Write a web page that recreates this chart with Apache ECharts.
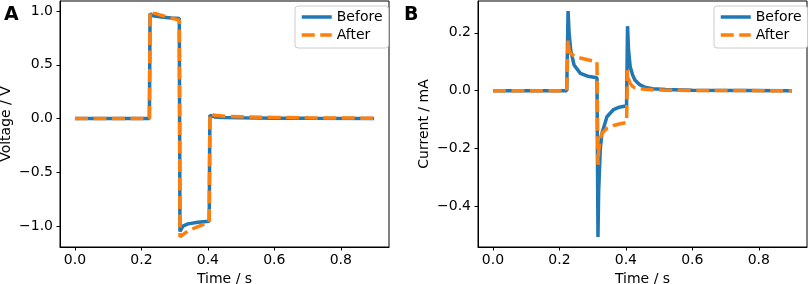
<!DOCTYPE html>
<html>
<head>
<meta charset="utf-8">
<script src="https://cdn.jsdelivr.net/npm/echarts@6/dist/echarts.min.js"></script>
<style>
  html, body { margin: 0; padding: 0; background: #fff; }
  #chart { width: 809px; height: 284px; }
</style>
</head>
<body>
<div id="chart"></div>
<script>
// panel A: voltage
var timeA = [0, 0.224, 0.226, 0.235, 0.26, 0.29, 0.314, 0.316, 0.325, 0.34, 0.37, 0.404, 0.406, 0.42, 0.45, 0.5, 0.6, 0.7, 0.9];
var voltBefore = [0, 0, 0.975, 0.955, 0.945, 0.935, 0.93, -1.05, -1.0, -0.98, -0.965, -0.955, 0.03, 0.015, 0.01, 0.006, 0.003, 0.002, 0.001];
var voltAfter = [0, 0, 1.0, 0.985, 0.96, 0.935, 0.915, -1.1, -1.08, -1.045, -1.005, -0.965, 0.045, 0.03, 0.022, 0.016, 0.01, 0.006, 0.003];

// panel B: current
var timeB = [0, 0.222, 0.226, 0.229, 0.234, 0.244, 0.263, 0.285, 0.313, 0.316, 0.318, 0.323, 0.328, 0.343, 0.363, 0.38, 0.402, 0.405, 0.408, 0.413, 0.42, 0.427, 0.44, 0.457, 0.48, 0.52, 0.6, 0.9];
var currBefore = [0, 0, 0.275, 0.2, 0.14, 0.089, 0.06, 0.05, 0.045, -0.505, -0.35, -0.2, -0.147, -0.09, -0.065, -0.057, -0.052, 0.223, 0.14, 0.083, 0.055, 0.037, 0.022, 0.012, 0.007, 0.004, 0.002, 0];
var currAfter = [0, 0, 0.175, 0.14, 0.129, 0.12, 0.113, 0.107, 0.1, -0.256, -0.21, -0.165, -0.148, -0.13, -0.12, -0.115, -0.11, 0.071, 0.04, 0.025, 0.015, 0.01, 0.007, 0.005, 0.003, 0.002, 0.001, 0];

var timeTicks = [0, 0.2, 0.4, 0.6, 0.8];
var voltTicks = [-1, -0.5, 0, 0.5, 1];
var currTicks = [-0.4, -0.2, 0, 0.2];

var FONT = 'DejaVu Sans';
var blue = '#1f77b4', orange = '#ff7f0e';

function pairs(xs, ys) {
    var out = [];
    for (var i = 0; i < xs.length; i++) out.push([xs[i], ys[i]]);
    return out;
}
function fmt(v) {
    var s = (Math.abs(v) < 1e-9 ? 0 : v).toFixed(1);
    return s.replace('-', '\u2212');
}

function xAxisOf(idx) {
    return {
        type: 'value', gridIndex: idx, min: -0.045, max: 0.945,
        name: 'Time / s', nameLocation: 'middle', nameGap: 23,
        nameTextStyle: { fontFamily: FONT, fontSize: 14, color: '#000' },
        axisLine: { onZero: false, lineStyle: { color: '#000', width: 1 } },
        axisTick: { show: true, length: 3.5, customValues: timeTicks, lineStyle: { color: '#000' } },
        axisLabel: { customValues: timeTicks, formatter: fmt, margin: 6, fontFamily: FONT, fontSize: 14, color: '#000' },
        splitLine: { show: false }
    };
}
function yAxisOf(idx, name, lo, hi, ticks) {
    return {
        type: 'value', gridIndex: idx, min: lo, max: hi,
        name: name, nameLocation: 'middle', nameGap: 47,
        nameTextStyle: { fontFamily: FONT, fontSize: 14, color: '#000' },
        axisLine: { show: true, onZero: false, lineStyle: { color: '#000', width: 1 } },
        axisTick: { show: true, length: 3.5, customValues: ticks, lineStyle: { color: '#000' } },
        axisLabel: { customValues: ticks, formatter: fmt, margin: 7, fontFamily: FONT, fontSize: 14, color: '#000' },
        splitLine: { show: false }
    };
}
function lineSeries(name, idx, data, color, dashed) {
    return {
        name: name, type: 'line', xAxisIndex: idx, yAxisIndex: idx,
        data: data, symbol: 'none', showSymbol: false,
        lineStyle: { color: color, width: 3.5, type: dashed ? [13, 5.5] : 'solid' },
        itemStyle: { color: color },
        z: dashed ? 3 : 2
    };
}
function legendAt(left) {
    return {
        left: left, top: 6, orient: 'vertical',
        data: ['Before', 'After'],
        itemWidth: 30, itemHeight: 14, itemGap: 4,
        padding: [4, 6, 6, 5],
        itemStyle: { opacity: 0 },
        lineStyle: { width: 3.5 },
        borderColor: '#cccccc', borderWidth: 1, borderRadius: 3,
        backgroundColor: '#fff',
        textStyle: { fontFamily: FONT, fontSize: 14, color: '#000' }
    };
}

var chart = echarts.init(document.getElementById('chart'), null, { renderer: 'canvas' });
chart.setOption({
    animation: false,
    backgroundColor: '#fff',
    title: [
        { text: 'A', left: -1, top: 1, textStyle: { fontFamily: FONT, fontSize: 19, fontWeight: 'bold', color: '#000' } },
        { text: 'B', left: 399, top: 1, textStyle: { fontFamily: FONT, fontSize: 19, fontWeight: 'bold', color: '#000' } }
    ],
    grid: [
        { left: 60, right: 420, top: 1, bottom: 37, outerBoundsMode: 'none', show: true, borderColor: '#000', borderWidth: 1 },
        { left: 478, right: 2, top: 1, bottom: 37, outerBoundsMode: 'none', show: true, borderColor: '#000', borderWidth: 1 }
    ],
    legend: [legendAt(295), legendAt(714)],
    xAxis: [xAxisOf(0), xAxisOf(1)],
    yAxis: [
        yAxisOf(0, 'Voltage / V', -1.195, 1.093, voltTicks),
        yAxisOf(1, 'Current / mA', -0.54, 0.31, currTicks)
    ],
    series: [
        lineSeries('Before', 0, pairs(timeA, voltBefore), blue, false),
        lineSeries('After', 0, pairs(timeA, voltAfter), orange, true),
        lineSeries('Before', 1, pairs(timeB, currBefore), blue, false),
        lineSeries('After', 1, pairs(timeB, currAfter), orange, true)
    ]
});
</script>
</body>
</html>
